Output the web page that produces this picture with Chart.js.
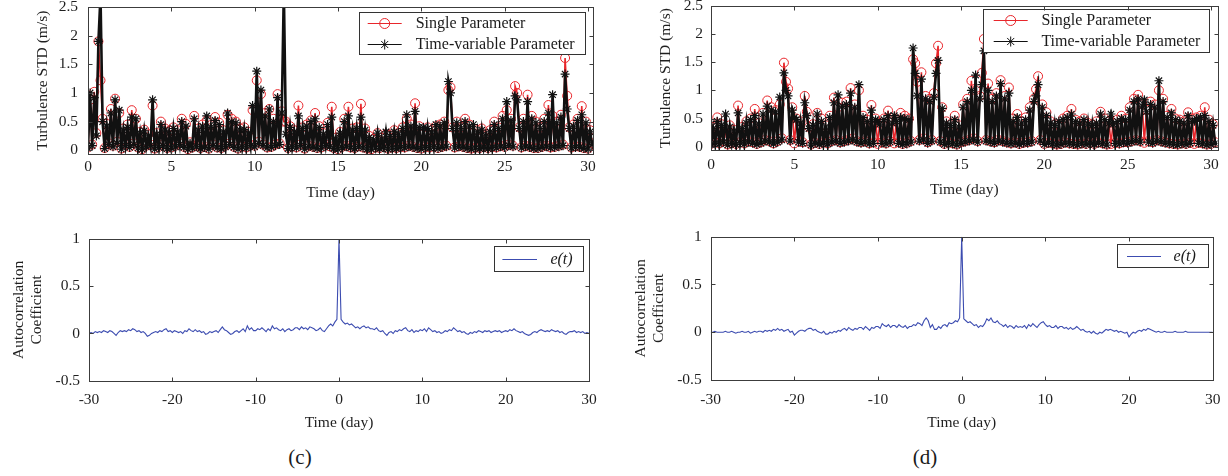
<!DOCTYPE html>
<html>
<head>
<meta charset="utf-8">
<title>Turbulence STD and autocorrelation</title>
<script src="https://cdn.jsdelivr.net/npm/chart.js@4.4.1/dist/chart.umd.min.js"></script>
<style>
  body { margin: 0; width: 1228px; height: 476px; background: #fff; position: relative; overflow: hidden; }
  canvas { position: absolute; }
  .caption { position: absolute; font-family: "Liberation Serif", "Times New Roman", serif; font-size: 21px; color: #1a1a1a; transform: translateX(-50%); }
</style>
</head>
<body>
<canvas id="turbC" width="614" height="205" style="left:0;top:0"></canvas>
<canvas id="turbD" width="608" height="205" style="left:620px;top:0"></canvas>
<canvas id="acfC" width="614" height="215" style="left:0;top:225px"></canvas>
<canvas id="acfD" width="608" height="215" style="left:620px;top:225px"></canvas>
<div class="caption" style="left:300px;top:445px">(c)</div>
<div class="caption" style="left:925px;top:445px">(d)</div>
<script>
// sampling grid: turbulence every 3 h, autocorrelation lag every 6 h
const dayStep = 0.125;
const lagStart = -30, lagStep = 0.25;

const dayTicks = [0, 5, 10, 15, 20, 25, 30];
const lagTicks = [-30, -20, -10, 0, 10, 20, 30];
const stdTicks = [0, 0.5, 1, 1.5, 2, 2.5];
const acfTicks = [-0.5, 0, 0.5, 1];

// (c) turbulence STD, one line per day
const singleC = [
  0.05,0.88,0.10,1.02,0.30,1.90,1.22,0.55,
  0.04,0.46,0.12,0.72,0.08,0.90,0.15,0.65,
  0.03,0.38,0.10,0.45,0.06,0.70,0.12,0.55,
  0.05,0.32,0.02,0.36,0.08,0.28,0.10,0.78,
  0.03,0.30,0.06,0.50,0.10,0.38,0.04,0.34,
  0.05,0.40,0.08,0.35,0.12,0.55,0.06,0.46,
  0.02,0.14,0.05,0.60,0.08,0.38,0.04,0.45,
  0.06,0.52,0.03,0.44,0.10,0.58,0.05,0.48,
  0.04,0.35,0.08,0.62,0.12,0.55,0.06,0.50,
  0.03,0.38,0.07,0.40,0.05,0.32,0.10,0.70,
  0.08,1.22,0.15,0.98,0.10,0.65,0.05,0.72,
  0.06,0.55,0.10,0.98,0.12,0.68,0.50,0.50,
  0.04,0.42,0.07,0.35,0.05,0.78,0.10,0.40,
  0.03,0.45,0.08,0.52,0.06,0.65,0.04,0.42,
  0.05,0.30,0.10,0.48,0.07,0.76,0.04,0.22,
  0.02,0.32,0.06,0.55,0.08,0.76,0.05,0.38,
  0.04,0.40,0.07,0.81,0.05,0.38,0.03,0.25,
  0.02,0.20,0.05,0.30,0.04,0.22,0.06,0.28,
  0.03,0.26,0.05,0.35,0.04,0.30,0.06,0.40,
  0.05,0.55,0.08,0.45,0.06,0.82,0.04,0.42,
  0.03,0.30,0.06,0.40,0.05,0.35,0.07,0.42,
  0.04,0.45,0.06,0.50,0.08,1.05,1.10,0.40,
  0.05,0.50,0.07,0.40,0.06,0.55,0.04,0.45,
  0.03,0.30,0.05,0.35,0.04,0.38,0.06,0.28,
  0.04,0.35,0.06,0.50,0.05,0.40,0.08,0.60,
  0.06,0.70,0.10,0.55,0.08,1.12,1.00,0.40,
  0.05,0.55,0.08,0.97,0.06,0.60,0.04,0.50,
  0.04,0.40,0.06,0.55,0.08,0.79,0.05,0.60,
  0.06,0.50,0.08,0.62,0.10,1.61,0.95,0.40,
  0.05,0.45,0.07,0.55,0.06,0.77,0.04,0.50,
  0.03,0.35,0.12
];
const timeVarC = [
  0.04,1.00,0.08,0.92,0.25,1.90,2.70,0.50,
  0.03,0.42,0.10,0.65,0.06,0.88,0.12,0.70,
  0.02,0.35,0.08,0.40,0.05,0.58,0.10,0.55,
  0.04,0.30,0.02,0.34,0.06,0.25,0.08,0.88,
  0.02,0.28,0.05,0.45,0.08,0.35,0.03,0.30,
  0.04,0.38,0.06,0.32,0.10,0.50,0.05,0.42,
  0.02,0.12,0.04,0.55,0.06,0.35,0.03,0.42,
  0.05,0.60,0.02,0.40,0.08,0.52,0.04,0.45,
  0.03,0.32,0.06,0.65,0.10,0.50,0.05,0.48,
  0.02,0.35,0.06,0.36,0.04,0.30,0.08,0.78,
  0.06,1.38,0.12,1.05,0.08,0.60,0.04,0.72,
  0.05,0.50,0.08,0.92,0.10,0.65,2.80,0.28,
  0.03,0.40,0.06,0.32,0.04,0.60,0.08,0.38,
  0.02,0.42,0.06,0.50,0.05,0.55,0.03,0.40,
  0.04,0.28,0.08,0.45,0.06,0.58,0.03,0.20,
  0.02,0.30,0.05,0.50,0.06,0.60,0.04,0.35,
  0.03,0.38,0.06,0.58,0.04,0.35,0.02,0.22,
  0.02,0.18,0.04,0.30,0.03,0.20,0.05,0.32,
  0.02,0.24,0.04,0.32,0.03,0.28,0.05,0.38,
  0.04,0.62,0.06,0.42,0.05,0.68,0.03,0.40,
  0.02,0.40,0.05,0.38,0.04,0.32,0.06,0.45,
  0.03,0.42,0.05,0.48,0.06,1.20,1.00,0.38,
  0.04,0.48,0.06,0.38,0.05,0.50,0.03,0.42,
  0.02,0.45,0.04,0.32,0.03,0.35,0.05,0.25,
  0.03,0.32,0.05,0.45,0.04,0.38,0.06,0.55,
  0.05,0.85,0.08,0.52,0.06,0.95,0.88,0.38,
  0.04,0.50,0.06,0.85,0.05,0.55,0.03,0.48,
  0.03,0.38,0.05,0.50,0.06,0.65,0.04,0.97,
  0.05,0.48,0.06,0.58,0.08,1.33,0.72,0.38,
  0.04,0.42,0.05,0.52,0.05,0.62,0.03,0.48,
  0.02,0.32,0.10
];

// (d) turbulence STD, one line per day
const singleD = [
  0.05,0.35,0.08,0.52,0.06,0.40,0.10,0.30,
  0.04,0.38,0.07,0.30,0.05,0.73,0.08,0.35,
  0.06,0.45,0.10,0.50,0.08,0.67,0.05,0.42,
  0.08,0.60,0.12,0.82,0.10,0.70,0.06,0.65,
  0.10,0.75,0.15,1.49,1.15,1.03,0.12,0.70,
  0.06,0.50,0.10,0.45,0.08,0.90,0.62,0.35,
  0.04,0.40,0.07,0.60,0.05,0.50,0.08,0.38,
  0.06,0.55,0.10,0.87,0.12,0.70,0.08,0.78,
  0.10,0.80,0.12,1.04,0.15,0.75,0.10,1.00,
  0.08,0.55,0.10,0.48,0.06,0.74,0.08,0.50,
  0.05,0.42,0.08,0.50,0.06,0.64,0.10,0.45,
  0.06,0.48,0.08,0.60,0.05,0.55,0.07,0.50,
  0.10,1.55,1.48,1.15,0.12,1.32,0.15,0.90,
  0.08,0.85,0.12,0.95,1.48,1.79,0.10,0.70,
  0.05,0.45,0.08,0.40,0.06,0.55,0.04,0.38,
  0.08,0.75,0.10,0.85,0.12,1.17,0.15,1.00,
  0.10,0.90,1.31,1.91,0.12,1.12,0.10,0.85,
  0.08,0.95,0.12,1.18,0.10,0.90,0.08,1.05,
  0.06,0.50,0.08,0.58,0.05,0.45,0.07,0.52,
  0.08,0.70,0.10,0.85,1.02,1.25,0.12,0.75,
  0.05,0.61,0.07,0.45,0.06,0.40,0.04,0.38,
  0.05,0.50,0.08,0.55,0.06,0.67,0.05,0.48,
  0.04,0.45,0.06,0.50,0.05,0.42,0.07,0.40,
  0.05,0.45,0.08,0.62,0.06,0.50,0.04,0.45,
  0.05,0.42,0.07,0.48,0.06,0.55,0.08,0.50,
  0.08,0.70,0.10,0.85,0.12,0.92,0.10,0.75,
  0.07,0.65,0.10,0.80,0.08,0.75,0.12,1.00,
  0.10,0.85,0.08,0.55,0.06,0.67,0.05,0.50,
  0.04,0.48,0.06,0.45,0.05,0.61,0.07,0.50,
  0.05,0.52,0.07,0.55,0.06,0.70,0.04,0.48,
  0.05,0.40,0.08
];
const timeVarD = [
  0.04,0.32,0.06,0.45,0.05,0.38,0.08,0.58,
  0.03,0.35,0.06,0.28,0.04,0.60,0.07,0.32,
  0.05,0.42,0.08,0.48,0.06,0.55,0.04,0.40,
  0.06,0.58,0.10,0.72,0.08,0.65,0.05,0.62,
  0.08,0.88,0.12,1.31,1.00,0.90,0.10,0.65,
  0.52,0.48,0.08,0.42,0.06,0.78,0.55,0.32,
  0.03,0.38,0.06,0.58,0.04,0.45,0.06,0.35,
  0.05,0.52,0.08,0.78,0.10,0.92,0.06,0.72,
  0.08,0.75,0.10,0.95,0.12,0.70,0.08,1.10,
  0.06,0.52,0.08,0.45,0.05,0.65,0.06,0.48,
  0.45,0.40,0.06,0.48,0.05,0.55,0.08,0.42,
  0.55,0.45,0.06,0.52,0.04,0.50,0.05,0.48,
  0.08,1.75,1.30,0.90,0.10,1.20,0.12,0.85,
  0.06,0.80,0.10,0.88,1.30,1.53,0.08,0.68,
  0.04,0.42,0.06,0.38,0.05,0.48,0.03,0.35,
  0.06,0.70,0.08,0.80,0.10,1.00,0.12,1.27,
  0.08,0.85,1.10,1.70,0.10,1.00,0.08,0.80,
  0.06,0.90,0.10,1.12,0.08,0.85,0.06,0.95,
  0.05,0.45,0.06,0.52,0.04,0.42,0.06,0.48,
  0.06,0.65,0.08,0.80,0.90,1.10,0.10,0.70,
  0.04,0.55,0.06,0.42,0.05,0.38,0.03,0.45,
  0.04,0.48,0.06,0.52,0.05,0.58,0.04,0.45,
  0.03,0.42,0.05,0.48,0.04,0.40,0.06,0.38,
  0.04,0.42,0.06,0.58,0.05,0.48,0.03,0.42,
  0.58,0.40,0.06,0.45,0.05,0.50,0.07,0.48,
  0.06,0.65,0.08,0.80,0.10,0.85,0.08,0.72,
  0.83,0.62,0.08,0.75,0.06,0.70,0.10,1.17,
  0.08,0.80,0.06,0.52,0.05,0.60,0.04,0.48,
  0.03,0.45,0.05,0.42,0.04,0.55,0.06,0.45,
  0.45,0.50,0.06,0.52,0.05,0.55,0.03,0.45,
  0.04,0.38,0.06
];

// autocorrelation of e(t), lag -30..30 days, one line per day
const acfC = [
  0.00,0.01,0.00,0.02,  0.01,0.02,0.01,0.03,  0.02,0.01,0.03,0.02,  0.00,-0.02,0.01,0.03,
  0.02,0.03,0.02,0.04,  0.03,0.05,0.04,0.02,  0.03,0.01,0.02,0.00,  -0.03,-0.02,0.00,0.01,
  0.02,0.01,0.03,0.02,  0.04,0.05,0.02,0.03,  0.01,0.03,0.02,0.01,  0.02,0.00,0.03,0.02,
  0.05,0.03,0.02,0.04,  0.02,0.03,0.01,0.02,  -0.01,0.00,0.02,0.01, 0.02,0.03,0.01,0.04,
  0.07,0.04,0.03,0.01,  -0.01,0.00,0.02,0.03, 0.01,0.03,0.05,0.02,  0.08,0.04,0.06,0.03,
  0.03,0.05,0.04,0.06,  0.04,0.02,0.05,0.03,  0.08,0.05,0.06,0.04,  0.03,0.05,0.02,0.04,
  0.05,0.03,0.04,0.06,  0.06,0.04,0.07,0.05,  0.06,0.04,0.07,0.06,  0.05,0.03,0.04,0.06,
  0.03,0.02,0.05,0.08,  0.10,0.08,0.12,0.15,
  1.00,0.15,0.12,0.10,  0.11,0.09,0.10,0.08,  0.06,0.07,0.05,0.07,  0.08,0.06,0.07,0.05,
  0.05,0.04,0.06,0.03,  0.02,0.03,0.00,-0.02, 0.01,0.02,0.00,0.03,  0.02,0.04,0.03,0.05,
  0.06,0.03,0.02,0.04,  0.01,0.03,0.02,0.04,  0.03,0.05,0.02,0.06,  0.04,0.02,0.03,0.01,
  0.02,0.00,0.01,0.03,  0.02,0.04,0.03,0.06,  0.04,0.02,0.03,0.01,  0.02,0.00,-0.01,0.01,
  0.00,0.02,0.01,0.03,  0.02,0.01,0.03,0.02,  0.03,0.01,0.02,0.03,  0.02,0.03,0.01,0.02,
  0.03,0.02,0.04,0.03,  0.05,0.03,0.02,0.01,  0.02,0.00,-0.01,-0.02, -0.01,0.01,0.02,0.01,
  0.03,0.04,0.03,0.02,  0.03,0.02,0.04,0.03,  0.02,0.03,0.01,0.02,  0.00,-0.01,0.01,0.02,
  0.02,0.03,0.01,0.02,  0.01,0.02,0.00,0.01,
  0.00
];
const acfD = [
  0.00,0.00,0.01,0.00,  0.00,0.00,0.00,0.01,  0.00,0.00,0.01,0.00,  -0.01,0.00,0.00,0.01,
  0.00,0.00,0.01,-0.01, 0.00,0.01,0.00,0.01,  0.01,0.00,0.02,0.01,  0.02,0.01,0.03,0.02,
  0.04,0.02,0.03,0.01,  0.02,0.03,0.00,0.01,  -0.03,-0.01,0.01,0.02, 0.02,0.01,0.03,0.04,
  0.04,0.02,0.03,0.01,  0.00,-0.01,0.01,-0.02, -0.02,0.00,-0.01,0.01, 0.00,0.02,0.01,0.03,
  0.04,0.02,0.05,0.03,  0.02,0.04,0.03,0.05,  0.05,0.03,0.06,0.04,  0.02,0.05,0.04,0.06,
  0.06,0.04,0.09,0.07,  0.06,0.08,0.05,0.07,  0.07,0.05,0.08,0.06,  0.05,0.07,0.04,0.06,
  0.06,0.08,0.07,0.10,  0.09,0.07,0.12,0.15,  0.12,0.05,0.08,0.03,  0.03,0.06,0.04,0.07,
  0.08,0.06,0.10,0.09,  0.10,0.12,0.11,0.15,
  1.00,0.14,0.12,0.10,  0.11,0.09,0.07,0.08,  0.05,0.07,0.06,0.09,  0.14,0.12,0.15,0.11,
  0.10,0.12,0.09,0.08,  0.06,0.08,0.05,0.07,  0.06,0.04,0.07,0.05,  0.06,0.05,0.07,0.04,
  0.08,0.06,0.09,0.07,  0.05,0.08,0.10,0.11,  0.08,0.06,0.07,0.05,  0.05,0.07,0.04,0.06,
  0.06,0.04,0.05,0.03,  0.05,0.03,0.04,0.06,  0.04,0.02,0.03,0.01,  0.00,0.01,-0.01,0.01,
  -0.01,-0.02,0.00,-0.01, 0.01,0.03,0.02,0.03, 0.02,0.01,0.02,0.00,  0.01,0.00,-0.01,0.00,
  -0.05,-0.02,0.00,-0.01, 0.01,0.02,0.01,0.03, 0.02,0.04,0.03,0.02,  0.01,0.00,0.01,0.00,
  0.00,0.01,0.00,0.00,  0.00,0.00,0.01,0.00,  0.00,0.00,0.00,0.01,  0.00,0.00,0.00,0.00,
  0.00,0.00,0.00,0.00,  0.00,0.00,0.00,0.00,
  0.00
];

const serif = '"Liberation Serif", "Times New Roman", serif';
Chart.defaults.font.family = serif;
Chart.defaults.font.size = 15.5;
Chart.defaults.color = '#1f1f1f';

const toPoints = (vals, start, step) => vals.map((v, i) => ({ x: start + i * step, y: v }));
const fmt = v => String(Math.round(v * 10) / 10);

// legend drawn as a framed box inside the plot, like the original figure
const boxLegend = {
  id: 'boxLegend',
  afterDatasetsDraw(chart, args, o) {
    if (!o || !o.width) return;
    const { ctx, chartArea } = chart;
    const x = Math.round(chartArea.right - o.right - o.width);
    const y = Math.round(chartArea.top + o.top);
    ctx.save();
    ctx.fillStyle = '#fff';
    ctx.fillRect(x, y, o.width, o.height);
    ctx.strokeStyle = '#333';
    ctx.lineWidth = 1;
    ctx.strokeRect(x + 0.5, y + 0.5, Math.round(o.width), Math.round(o.height));
    chart.data.datasets.forEach((ds, i) => {
      const ly = Math.round(y + o.rowTop + i * o.rowGap) + 0.5;
      ctx.strokeStyle = ds.borderColor;
      ctx.lineWidth = 1;
      ctx.beginPath();
      ctx.moveTo(x + o.lineStart, ly);
      ctx.lineTo(x + o.lineStart + o.lineLen, ly);
      ctx.stroke();
      if (ds.pointRadius > 0) {
        ctx.fillStyle = 'rgba(0,0,0,0)';
        Chart.helpers.drawPoint(ctx, { pointStyle: ds.pointStyle, radius: ds.pointRadius + 0.5, borderWidth: 1, rotation: 0 },
          x + o.lineStart + o.lineLen / 2, ly);
      }
      ctx.fillStyle = '#1a1a1a';
      ctx.font = (o.italic ? 'italic ' : '') + '16px ' + serif;
      ctx.textAlign = 'left';
      ctx.textBaseline = 'middle';
      ctx.fillText(ds.label, x + o.textStart, ly);
    });
    ctx.restore();
  }
};

// box around the axes with inward tick marks on all four sides
const frameTicks = {
  id: 'frameTicks',
  afterDraw(chart) {
    const { ctx, chartArea: a, scales } = chart;
    const L = Math.round(a.left) + 0.5, R = Math.round(a.right) + 0.5;
    const T = Math.round(a.top) + 0.5, B = Math.round(a.bottom) + 0.5;
    const len = 4;
    ctx.save();
    ctx.strokeStyle = '#3c3c3c';
    ctx.lineWidth = 1;
    ctx.strokeRect(L, T, R - L, B - T);
    ctx.beginPath();
    scales.x.ticks.forEach(t => {
      const px = Math.round(scales.x.getPixelForValue(t.value)) + 0.5;
      ctx.moveTo(px, B); ctx.lineTo(px, B - len);
      ctx.moveTo(px, T); ctx.lineTo(px, T + len);
    });
    scales.y.ticks.forEach(t => {
      const py = Math.round(scales.y.getPixelForValue(t.value)) + 0.5;
      ctx.moveTo(L, py); ctx.lineTo(L + len, py);
      ctx.moveTo(R, py); ctx.lineTo(R - len, py);
    });
    ctx.stroke();
    ctx.restore();
  }
};

function makePanel(id, p) {
  const canvas = document.getElementById(id);
  const W = canvas.width, H = canvas.height, a = p.area;
  const noPad = s => { s.paddingTop = 0; s.paddingBottom = 0; s.paddingLeft = 0; s.paddingRight = 0; };
  return new Chart(canvas, {
    type: 'line',
    data: { datasets: p.datasets },
    options: {
      responsive: false,
      animation: false,
      parsing: false,
      normalized: true,
      events: [],
      layout: { padding: { left: 0, top: a.top, right: W - a.right, bottom: 0 } },
      plugins: { legend: { display: false }, tooltip: { enabled: false }, boxLegend: p.legend },
      scales: {
        x: {
          type: 'linear', min: p.xMin, max: p.xMax,
          grid: { display: false, drawTicks: false }, border: { display: false },
          afterBuildTicks: s => { s.ticks = p.xTicks.map(v => ({ value: v })); },
          ticks: { padding: p.xTickPad, maxRotation: 0, autoSkip: false, callback: fmt },
          title: { display: true, text: 'Time (day)', padding: { top: 0, bottom: p.xTitlePad } },
          afterFit: s => { s.height = H - a.bottom; noPad(s); }
        },
        y: {
          min: p.yMin, max: p.yMax,
          grid: { display: false, drawTicks: false }, border: { display: false },
          afterBuildTicks: s => { s.ticks = p.yTicks.map(v => ({ value: v })); },
          ticks: { padding: p.yTickPad, callback: fmt },
          title: { display: true, text: p.yTitle, font: { size: 15.5, lineHeight: 1.22 },
                   padding: { top: p.yTitlePad, bottom: 0 } },
          afterFit: s => { s.width = a.left; noPad(s); }
        }
      }
    },
    plugins: [boxLegend, frameTicks]
  });
}

function turbulenceSets(single, timeVar) {
  return [
    { label: 'Single Parameter', data: toPoints(single, 0, dayStep),
      borderColor: '#e8262b', borderWidth: 1.6, pointStyle: 'circle', pointRadius: 4.5,
      pointBorderColor: '#e8262b', pointBackgroundColor: 'rgba(0,0,0,0)', pointBorderWidth: 1, order: 2 },
    { label: 'Time-variable Parameter', data: toPoints(timeVar, 0, dayStep),
      borderColor: '#111', borderWidth: 2.6, pointStyle: 'star', pointRadius: 4.5,
      pointBorderColor: '#111', pointBorderWidth: 1.2, order: 1 }
  ];
}

function acfSets(acf) {
  return [{ label: 'e(t)', data: toPoints(acf, lagStart, lagStep),
            borderColor: '#3c4cb0', borderWidth: 1.1, pointRadius: 0 }];
}

makePanel('turbC', {
  area: { left: 88, top: 7, right: 593, bottom: 154 },
  xMin: 0, xMax: 30.3, xTicks: dayTicks, xTickPad: 3.5, xTitlePad: 3,
  yMin: -0.065, yMax: 2.5, yTicks: stdTicks, yTickPad: 10,
  yTitle: 'Turbulence STD (m/s)', yTitlePad: 33,
  datasets: turbulenceSets(singleC, timeVarC),
  legend: { right: 8, top: 4.7, width: 226, height: 42, rowTop: 11, rowGap: 20.6, lineStart: 8.7, lineLen: 34, textStart: 56.7 }
});

makePanel('turbD', {
  area: { left: 91, top: 3.3, right: 597.5, bottom: 150.4 },
  xMin: 0, xMax: 30.39, xTicks: dayTicks, xTickPad: 5, xTitlePad: 5.3,
  yMin: -0.065, yMax: 2.5, yTicks: stdTicks, yTickPad: 8,
  yTitle: 'Turbulence STD (m/s)', yTitlePad: 36,
  datasets: turbulenceSets(singleD, timeVarD),
  legend: { right: 8.2, top: 3.4, width: 226, height: 43, rowTop: 10.6, rowGap: 21, lineStart: 10.7, lineLen: 34, textStart: 58.4 }
});

makePanel('acfC', {
  area: { left: 89, top: 14, right: 589, bottom: 155.7 },
  xMin: -30, xMax: 30, xTicks: lagTicks, xTickPad: 10, xTitlePad: 7.7,
  yMin: -0.5, yMax: 1, yTicks: acfTicks, yTickPad: 9,
  yTitle: ['Autocorrelation', 'Coefficient'], yTitlePad: 9,
  datasets: acfSets(acfC),
  legend: { right: 5.7, top: 6.7, width: 89, height: 25, rowTop: 12.6, rowGap: 0, lineStart: 8.4, lineLen: 34.6, textStart: 56.4, italic: true }
});

makePanel('acfD', {
  area: { left: 90.7, top: 11.7, right: 592.7, bottom: 155 },
  xMin: -30, xMax: 30, xTicks: lagTicks, xTickPad: 10.5, xTitlePad: 7.7,
  yMin: -0.5, yMax: 1, yTicks: acfTicks, yTickPad: 9,
  yTitle: ['Autocorrelation', 'Coefficient'], yTitlePad: 11,
  datasets: acfSets(acfD),
  legend: { right: 5.4, top: 7.6, width: 90.6, height: 23.4, rowTop: 12.4, rowGap: 0, lineStart: 10, lineLen: 34, textStart: 56.6, italic: true }
});
</script>
</body>
</html>
